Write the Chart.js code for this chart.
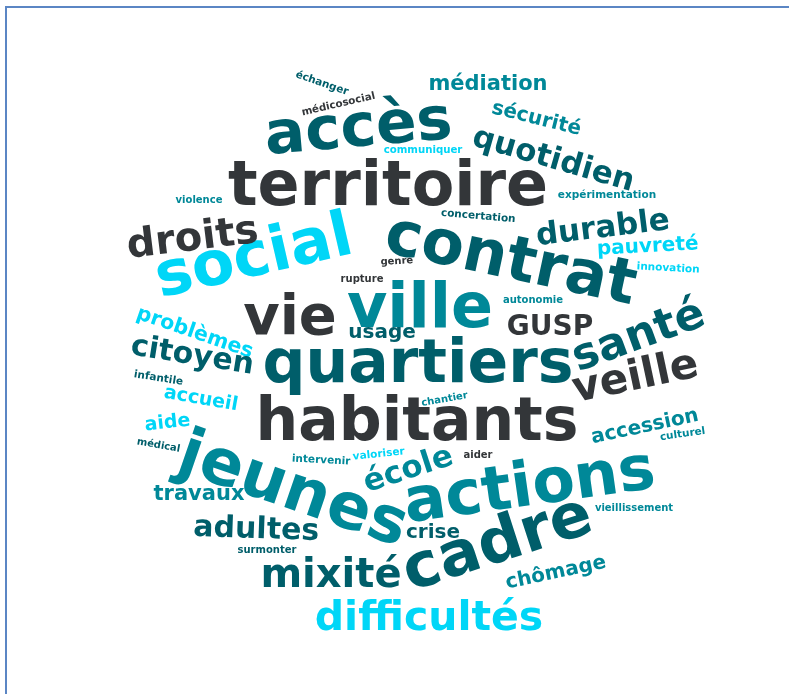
<!DOCTYPE html>
<html>
<head>
<meta charset="utf-8">
<script src="https://cdn.jsdelivr.net/npm/chart.js@4.4.1/dist/chart.umd.min.js"></script>
<style>
  html, body { margin: 0; padding: 0; background: #ffffff; }
  #wrap { position: relative; width: 789px; height: 694px; overflow: hidden; }
  #frame { position: absolute; left: 5px; top: 6px; width: 900px; height: 900px;
           border-top: 2px solid #5b86c4; border-left: 2px solid #5b86c4; }
  canvas { position: absolute; left: 0; top: 0; }
</style>
</head>
<body>
<div id="wrap">
  <div id="frame"></div>
  <canvas id="cloud" width="789" height="694"></canvas>
</div>
<script>
// words of the cloud and their weight (weight = font size)
var words = ['territoire', 'accès', 'contrat', 'social', 'droits', 'vie', 'ville', 'quartiers',
  'habitants', 'jeunes', 'actions', 'cadre', 'mixité', 'difficultés', 'santé', 'veille', 'GUSP',
  'quotidien', 'médiation', 'sécurité', 'durable', 'pauvreté', 'innovation', 'autonomie',
  'problèmes', 'citoyen', 'infantile', 'accueil', 'aide', 'médical', 'travaux', 'adultes',
  'surmonter', 'intervenir', 'valoriser', 'école', 'aider', 'crise', 'chômage', 'vieillissement',
  'accession', 'culturel', 'chantier', 'usage', 'rupture', 'genre', 'concertation', 'communiquer',
  'expérimentation', 'violence', 'échanger', 'médicosocial'];
var weights = [62, 60, 62, 62, 40, 56, 62, 60,
  60, 64, 62, 62, 40, 41, 44, 42, 28,
  31, 21, 20, 31, 20, 10.5, 10,
  20.5, 30, 10.5, 19, 19, 10, 21, 30,
  10, 10.5, 10.5, 31, 10, 20, 20, 10,
  20, 10.5, 10, 20, 10, 10, 10.5, 10.2,
  10.5, 10, 10.5, 10.3];
// colour group of each word: 0 grey, 1 dark teal, 2 teal, 3 cyan
var groups = [0, 1, 1, 3, 0, 0, 2, 1,
  0, 2, 2, 1, 1, 3, 1, 0, 0,
  1, 2, 2, 1, 3, 3, 2,
  3, 1, 1, 3, 3, 1, 2, 1,
  1, 2, 3, 2, 0, 1, 2, 2,
  2, 2, 2, 1, 0, 0, 1, 3,
  2, 2, 1, 0];
// layout of the cloud (baseline centre of each word, rotation in degrees)
var layoutX = [388, 360, 507, 258, 194, 290, 420, 418,
  417, 287, 532, 503, 331, 429, 643, 638, 550,
  551, 488, 535, 604, 648, 668, 533,
  193, 191, 158, 200, 168, 158, 199, 256,
  267, 321, 379, 411, 478, 433, 557, 634,
  646, 683, 445, 382, 362, 397, 478, 423,
  607, 199, 321, 339];
var layoutY = [205, 146, 278, 275, 250, 334, 327, 382,
  440, 508, 505, 561, 587, 630, 348, 389, 335,
  168, 90, 124, 237, 252, 271, 303,
  338, 364, 381, 404, 428, 448, 500, 538,
  553, 463, 457, 478, 458, 538, 578, 511,
  432, 437, 402, 338, 282, 264, 219, 153,
  198, 203, 86, 107];
var angles = [0, -5, 12, -13, -7, 0, 0, 0,
  0, 19, -8, -18, 0, 0, -20, -12, 0,
  16, 0, 14, -7, -3, 3, 0,
  19, 9, 9, 10, -6, 10, 0, 2,
  0, 3, -6, -18, 0, 0, -12, 0,
  -12, -8, -10, 0, 0, -3, 5, 0,
  0, 0, 19, -13];

var palette = ['#333639', '#005e6a', '#008898', '#00d6f7'];

var points = words.map(function (w, i) {
  return { x: layoutX[i], y: layoutY[i], text: w, size: weights[i], rot: angles[i], tone: groups[i] };
});

// draws each word at its point through the scales
var wordPlugin = {
  id: 'wordPlugin',
  afterDatasetsDraw: function (chart) {
    var ctx = chart.ctx;
    var xs = chart.scales.x, ys = chart.scales.y;
    chart.data.datasets[0].data.forEach(function (p) {
      ctx.save();
      ctx.translate(xs.getPixelForValue(p.x), ys.getPixelForValue(p.y));
      ctx.rotate(p.rot * Math.PI / 180);
      ctx.font = 'bold ' + p.size + 'px "DejaVu Sans"';
      ctx.fillStyle = palette[p.tone];
      ctx.textAlign = 'center';
      ctx.textBaseline = 'alphabetic';
      ctx.fillText(p.text, 0, 0);
      ctx.restore();
    });
  }
};

new Chart(document.getElementById('cloud'), {
  type: 'scatter',
  data: { datasets: [{ data: points, pointRadius: 0, pointHoverRadius: 0 }] },
  options: {
    responsive: false,
    animation: false,
    devicePixelRatio: 1,
    layout: { padding: 0 },
    events: [],
    plugins: { legend: { display: false }, tooltip: { enabled: false } },
    scales: {
      x: { type: 'linear', min: 0, max: 789, display: false },
      y: { type: 'linear', min: 0, max: 694, reverse: true, display: false }
    }
  },
  plugins: [wordPlugin]
});
</script>
</body>
</html>
